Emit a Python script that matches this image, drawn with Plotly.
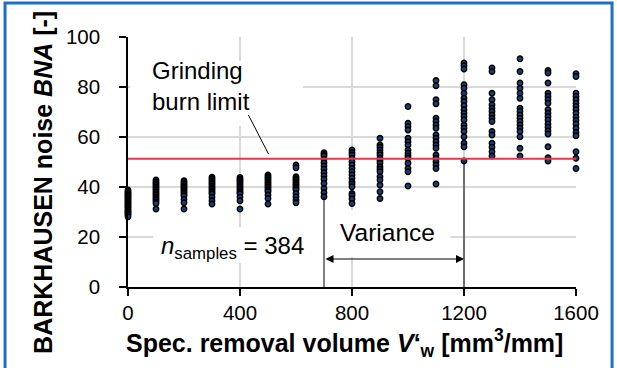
import plotly.graph_objects as go

# ---------------- data ----------------
volumes = [0, 100, 200, 300, 400, 500, 600, 700, 800, 900, 1000, 1100, 1200, 1300, 1400, 1500, 1600]

bna_0 = [38.8, 38.2, 37.7, 37.2, 36.8, 36.3, 35.9, 35.3, 34.8, 34.3, 33.8, 33.3, 32.8, 32.3, 31.9, 31.3, 30.8, 30.3, 29.8, 29.3, 28.9, 28.1]
bna_100 = [42.8, 42.0, 41.4, 40.8, 40.1, 39.4, 38.8, 38.1, 37.4, 36.8, 36.1, 35.4, 34.8, 34.1, 33.4, 31.2]
bna_200 = [42.5, 41.8, 41.2, 40.6, 40.1, 39.5, 39.0, 38.3, 37.7, 37.0, 36.4, 35.0, 33.7, 31.2]
bna_300 = [43.9, 43.2, 42.5, 41.8, 41.2, 40.5, 39.8, 39.2, 38.5, 37.8, 37.2, 35.9, 34.5, 33.2]
bna_400 = [43.8, 43.1, 42.5, 41.8, 41.2, 40.5, 39.8, 39.2, 38.5, 37.8, 37.2, 35.9, 34.5, 31.2]
bna_500 = [44.8, 44.1, 43.5, 42.8, 42.1, 41.4, 40.8, 40.1, 39.4, 38.7, 38.1, 36.8, 35.4, 33.2]
bna_600 = [48.8, 47.7, 44.1, 43.4, 42.8, 42.1, 41.4, 40.8, 40.1, 39.4, 38.8, 37.4, 36.1, 34.8, 33.7]
bna_700 = [53.7, 53.0, 52.4, 51.1, 49.7, 48.4, 47.1, 45.7, 44.4, 43.1, 41.4, 39.4, 37.7, 36.1]
bna_800 = [54.8, 53.7, 52.8, 51.5, 50.1, 48.8, 47.4, 46.1, 44.8, 43.5, 42.1, 41.2, 40.1, 37.4, 36.5, 35.2, 33.4]
bna_900 = [59.5, 56.8, 55.9, 54.8, 53.7, 52.8, 51.5, 50.5, 49.5, 48.1, 47.1, 46.1, 44.1, 42.8, 40.8, 38.1, 35.4]
bna_1000 = [72.2, 65.5, 64.2, 62.8, 59.5, 58.1, 56.8, 54.8, 53.5, 52.4, 51.5, 49.5, 47.4, 46.1, 40.4]
bna_1100 = [82.6, 80.5, 74.9, 73.3, 67.5, 66.2, 64.8, 63.5, 60.8, 59.5, 58.1, 56.8, 55.5, 52.8, 51.5, 50.1, 48.8, 47.4, 41.2]
bna_1200 = [89.6, 88.5, 87.2, 80.9, 79.5, 77.5, 75.5, 74.2, 72.5, 70.9, 69.5, 68.2, 66.8, 64.8, 63.5, 62.2, 60.1, 57.5, 56.1, 50.4]
bna_1300 = [87.6, 86.2, 77.5, 74.9, 72.9, 71.5, 70.2, 68.8, 67.5, 66.2, 62.2, 60.8, 57.5, 55.9, 54.1, 52.4]
bna_1400 = [91.3, 86.2, 81.6, 79.5, 77.5, 75.5, 71.5, 70.2, 68.8, 67.5, 66.2, 64.8, 63.5, 62.2, 60.1, 55.5, 52.4]
bna_1500 = [86.6, 85.6, 81.6, 77.5, 76.2, 74.9, 73.5, 70.9, 69.5, 68.2, 66.8, 65.2, 63.9, 62.5, 61.2, 56.1, 51.7, 50.4]
bna_1600 = [85.3, 84.2, 77.5, 76.2, 74.9, 73.5, 72.2, 70.9, 69.5, 67.9, 66.6, 65.2, 63.5, 61.8, 60.5, 54.1, 51.5, 47.4]

burn_limit = 51.3
variance_start = 700
variance_end = 1200
x_ticks = [0, 400, 800, 1200, 1600]
y_ticks = [0, 20, 40, 60, 80, 100]

columns = [bna_0, bna_100, bna_200, bna_300, bna_400, bna_500, bna_600, bna_700, bna_800,
           bna_900, bna_1000, bna_1100, bna_1200, bna_1300, bna_1400, bna_1500, bna_1600]

xs, ys = [], []
for v, col in zip(volumes, columns):
    xs += [v] * len(col)
    ys += col

col_by_vol = dict(zip(volumes, columns))

FONT = "Liberation Sans, Arial, sans-serif"

fig = go.Figure()
fig.add_trace(go.Scatter(
    x=xs, y=ys, mode="markers", cliponaxis=False,
    marker=dict(size=5.5, color="#1a3d6e", line=dict(color="black", width=1.3)),
    showlegend=False, hoverinfo="skip"))

shapes = []
# white boxes hiding the grid behind texts
shapes.append(dict(type="rect", xref="x", yref="y", x0=8, x1=625, y0=64.5, y1=90.5,
                   fillcolor="white", line=dict(width=0), layer="between"))
shapes.append(dict(type="rect", xref="x", yref="y", x0=90, x1=760, y0=9.5, y1=24,
                   fillcolor="white", line=dict(width=0), layer="between"))
shapes.append(dict(type="rect", xref="x", yref="y", x0=760, x1=1151, y0=12, y1=30.7,
                   fillcolor="white", line=dict(width=0), layer="between"))
# burn limit line
shapes.append(dict(type="line", xref="x", yref="y", x0=volumes[0], x1=volumes[-1],
                   y0=burn_limit, y1=burn_limit, line=dict(color="#e03a52", width=2), layer="above"))
# leader line
shapes.append(dict(type="line", xref="x", yref="y", x0=430, y0=68.8, x1=502, y1=53.2,
                   line=dict(color="black", width=1), layer="above"))
# variance vertical lines
for v in (variance_start, variance_end):
    shapes.append(dict(type="line", xref="x", yref="y", x0=v, x1=v, y0=0, y1=min(col_by_vol[v]),
                       line=dict(color="black", width=1), layer="above"))
# blue border
shapes.append(dict(type="rect", xref="paper", yref="paper", x0=-0.2745, x1=1.0805, y0=-0.34, y1=1.136,
                   line=dict(color="#1f6fc6", width=3), fillcolor="rgba(0,0,0,0)", layer="above"))

annotations = [
    dict(xref="x", yref="y", x=80, y=93, xanchor="left", yanchor="top", align="left",
         text="Grinding<br>burn limit", showarrow=False, font=dict(family=FONT, size=24, color="black")),
    dict(xref="x", yref="y", x=112, y=16.0, xanchor="left", yanchor="middle",
         text="<i>n</i><sub>samples</sub> = 384", showarrow=False, font=dict(family=FONT, size=24, color="black")),
    dict(xref="x", yref="y", x=750, y=22, xanchor="left", yanchor="middle",
         text="Variance", showarrow=False, font=dict(family=FONT, size=24.5, color="black")),
    dict(xref="x", yref="y", axref="x", ayref="y", x=variance_end, y=11.2, ax=variance_start, ay=11.2,
         text="", showarrow=True, arrowhead=2, startarrowhead=2, arrowside="end+start",
         arrowsize=1.6, arrowwidth=1, arrowcolor="black", standoff=0, startstandoff=0),
    dict(xref="paper", yref="paper", x=0.484, y=-0.225, xanchor="center", yanchor="middle",
         text="<b>Spec. removal volume <i>V</i>‘<sub>w</sub> [mm<sup>3</sup>/mm]</b>", showarrow=False,
         font=dict(family=FONT, size=25, color="black")),
    dict(xref="paper", yref="paper", x=-0.19, y=0.42, xanchor="center", yanchor="middle", textangle=-90,
         text="<b>BARKHAUSEN noise <i>BNA</i> [-]</b>", showarrow=False,
         font=dict(family=FONT, size=25, color="black")),
]

fig.update_layout(
    width=617, height=368,
    margin=dict(l=128, r=41, t=37, b=81),
    paper_bgcolor="white", plot_bgcolor="white",
    font=dict(family=FONT, size=20, color="black"),
    shapes=shapes, annotations=annotations,
    xaxis=dict(range=[0, 1600], tickvals=x_ticks, ticktext=[str(t) for t in x_ticks],
               showgrid=True, gridcolor="#d9d9d9", gridwidth=1.5,
               showline=True, linecolor="black", linewidth=1.5,
               ticks="outside", ticklen=7, tickwidth=1.5, tickcolor="black",
               zeroline=False, tickfont=dict(size=20.5)),
    yaxis=dict(range=[0, 100], tickvals=y_ticks, ticktext=[str(t) for t in y_ticks],
               showgrid=True, gridcolor="#d9d9d9", gridwidth=1.5,
               showline=True, linecolor="black", linewidth=1.5,
               ticks="outside", ticklen=7, tickwidth=1.5, tickcolor="black",
               zeroline=False, tickfont=dict(size=20.5), ticklabelstandoff=15),
)

fig.write_html("out.html")
